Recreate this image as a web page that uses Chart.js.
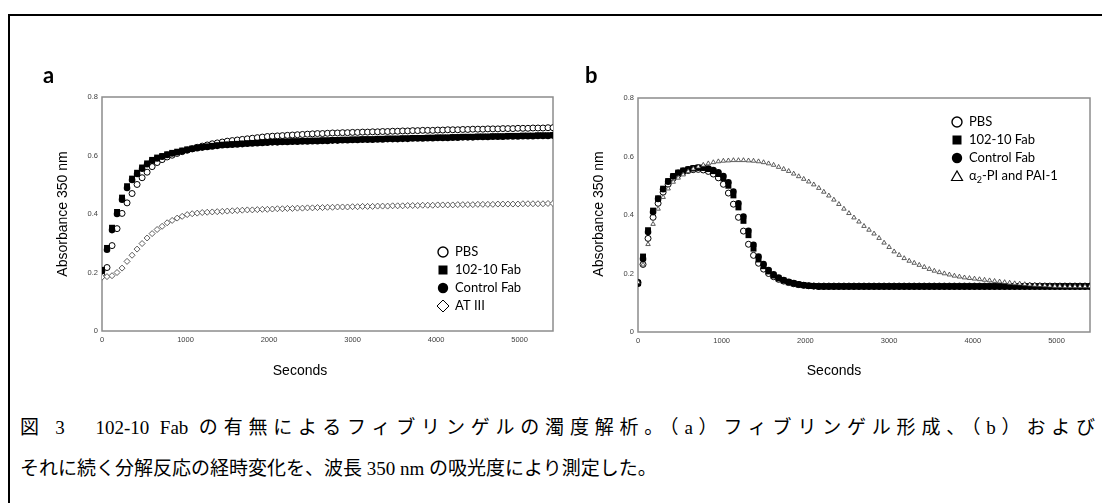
<!DOCTYPE html>
<html lang="ja">
<head>
<meta charset="utf-8">
<script src="https://cdn.jsdelivr.net/npm/chart.js@4.4.1/dist/chart.umd.min.js"></script>
<style>
  html, body { margin: 0; padding: 0; background: #fff; }
  body { width: 1102px; height: 503px; position: relative; overflow: hidden; }
  #frame { position: absolute; left: 8px; top: 14px; width: 1200px; height: 600px; border-top: 2px solid #000; border-left: 2px solid #000; }
  canvas { position: absolute; top: 0; }
  #chartA { left: 0; }
  #chartB { left: 536px; }
  .cap { position: absolute; left: 20px; font-family: "Liberation Serif", "Noto Sans CJK JP", serif; font-size: 19px; line-height: 22px; color: #000; white-space: nowrap; }
  #cap1 { top: 417px; width: 1075px; text-align: justify; text-align-last: justify; white-space: normal; }
  #cap2 { top: 458px; }
</style>
</head>
<body>
<div id="frame"></div>
<canvas id="chartA" width="560" height="390"></canvas>
<canvas id="chartB" width="566" height="390"></canvas>
<div class="cap" id="cap1">図 3　102-10 Fab の有無によるフィブリンゲルの濁度解析。（a）フィブリンゲル形成、（b）および</div>
<div class="cap" id="cap2">それに続く分解反応の経時変化を、波長 350 nm の吸光度により測定した。</div>
<script>
// time axis (s), one reading every minute
const seconds = [
  0, 60, 120, 180, 240, 300, 360, 420, 480, 540,
  600, 660, 720, 780, 840, 900, 960, 1020, 1080, 1140,
  1200, 1260, 1320, 1380, 1440, 1500, 1560, 1620, 1680, 1740,
  1800, 1860, 1920, 1980, 2040, 2100, 2160, 2220, 2280, 2340,
  2400, 2460, 2520, 2580, 2640, 2700, 2760, 2820, 2880, 2940,
  3000, 3060, 3120, 3180, 3240, 3300, 3360, 3420, 3480, 3540,
  3600, 3660, 3720, 3780, 3840, 3900, 3960, 4020, 4080, 4140,
  4200, 4260, 4320, 4380, 4440, 4500, 4560, 4620, 4680, 4740,
  4800, 4860, 4920, 4980, 5040, 5100, 5160, 5220, 5280, 5340,
  5400
]

// panel a : fibrin gel formation
const aPBS = [
  0.190, 0.217, 0.292, 0.350, 0.402, 0.438, 0.470, 0.501, 0.524, 0.543,
  0.562, 0.576, 0.586, 0.595, 0.601, 0.607, 0.613, 0.618, 0.623, 0.628,
  0.632, 0.636, 0.640, 0.643, 0.646, 0.649, 0.651, 0.653, 0.655, 0.657,
  0.659, 0.661, 0.663, 0.665, 0.666, 0.667, 0.668, 0.669, 0.670, 0.671,
  0.672, 0.673, 0.674, 0.675, 0.675, 0.676, 0.677, 0.677, 0.678, 0.678,
  0.679, 0.679, 0.680, 0.680, 0.681, 0.681, 0.682, 0.682, 0.683, 0.683,
  0.684, 0.684, 0.685, 0.685, 0.686, 0.686, 0.686, 0.687, 0.687, 0.688,
  0.688, 0.688, 0.689, 0.689, 0.690, 0.690, 0.690, 0.691, 0.691, 0.691,
  0.692, 0.692, 0.692, 0.693, 0.693, 0.693, 0.694, 0.694, 0.694, 0.695,
  0.695
]
const aFab = [
  0.209, 0.284, 0.353, 0.407, 0.456, 0.495, 0.521, 0.541, 0.559, 0.573,
  0.585, 0.593, 0.598, 0.604, 0.609, 0.613, 0.617, 0.621, 0.624, 0.627,
  0.629, 0.631, 0.633, 0.635, 0.637, 0.638, 0.639, 0.640, 0.641, 0.642,
  0.643, 0.644, 0.645, 0.646, 0.647, 0.647, 0.648, 0.648, 0.649, 0.649,
  0.650, 0.650, 0.651, 0.651, 0.652, 0.652, 0.653, 0.653, 0.654, 0.654,
  0.655, 0.655, 0.656, 0.656, 0.656, 0.657, 0.657, 0.658, 0.658, 0.658,
  0.659, 0.659, 0.660, 0.660, 0.660, 0.661, 0.661, 0.662, 0.662, 0.662,
  0.663, 0.663, 0.664, 0.664, 0.664, 0.665, 0.665, 0.665, 0.666, 0.666,
  0.666, 0.667, 0.667, 0.667, 0.668, 0.668, 0.668, 0.669, 0.669, 0.669,
  0.670
]
const aCtrl = [
  0.205, 0.278, 0.345, 0.400, 0.449, 0.489, 0.516, 0.537, 0.555, 0.570,
  0.582, 0.590, 0.596, 0.602, 0.607, 0.611, 0.615, 0.619, 0.622, 0.625,
  0.627, 0.629, 0.631, 0.633, 0.635, 0.636, 0.637, 0.638, 0.639, 0.640,
  0.641, 0.642, 0.643, 0.644, 0.645, 0.645, 0.646, 0.646, 0.647, 0.647,
  0.648, 0.648, 0.649, 0.649, 0.650, 0.650, 0.651, 0.651, 0.652, 0.652,
  0.653, 0.653, 0.654, 0.654, 0.654, 0.655, 0.655, 0.656, 0.656, 0.656,
  0.657, 0.657, 0.658, 0.658, 0.658, 0.659, 0.659, 0.660, 0.660, 0.660,
  0.661, 0.661, 0.662, 0.662, 0.662, 0.663, 0.663, 0.663, 0.664, 0.664,
  0.664, 0.665, 0.665, 0.665, 0.666, 0.666, 0.666, 0.667, 0.667, 0.667,
  0.668
]
const aAT3 = [
  0.184, 0.186, 0.189, 0.200, 0.215, 0.238, 0.259, 0.280, 0.299, 0.318,
  0.333, 0.347, 0.358, 0.370, 0.378, 0.386, 0.392, 0.398, 0.401, 0.403,
  0.405, 0.406, 0.407, 0.408, 0.409, 0.410, 0.411, 0.412, 0.413, 0.414,
  0.414, 0.415, 0.416, 0.416, 0.417, 0.418, 0.418, 0.419, 0.419, 0.420,
  0.420, 0.421, 0.421, 0.422, 0.422, 0.423, 0.423, 0.424, 0.424, 0.424,
  0.425, 0.425, 0.426, 0.426, 0.426, 0.427, 0.427, 0.427, 0.428, 0.428,
  0.428, 0.429, 0.429, 0.429, 0.430, 0.430, 0.430, 0.431, 0.431, 0.431,
  0.431, 0.432, 0.432, 0.432, 0.432, 0.433, 0.433, 0.433, 0.433, 0.434,
  0.434, 0.434, 0.434, 0.434, 0.435, 0.435, 0.435, 0.435, 0.435, 0.436,
  0.436
]

// panel b : formation followed by lysis
const bPBS = [
  0.170, 0.231, 0.320, 0.392, 0.440, 0.478, 0.505, 0.525, 0.538, 0.547,
  0.552, 0.555, 0.556, 0.554, 0.549, 0.540, 0.527, 0.505, 0.475, 0.437,
  0.392, 0.345, 0.300, 0.262, 0.235, 0.215, 0.200, 0.189, 0.180, 0.174,
  0.169, 0.165, 0.162, 0.160, 0.158, 0.157, 0.157, 0.157, 0.157, 0.157,
  0.157, 0.157, 0.157, 0.157, 0.157, 0.157, 0.157, 0.157, 0.157, 0.157,
  0.157, 0.157, 0.157, 0.157, 0.157, 0.157, 0.157, 0.157, 0.157, 0.157,
  0.157, 0.157, 0.157, 0.157, 0.157, 0.157, 0.157, 0.157, 0.157, 0.157,
  0.157, 0.157, 0.157, 0.157, 0.157, 0.157, 0.157, 0.157, 0.157, 0.157,
  0.157, 0.157, 0.157, 0.157, 0.157, 0.157, 0.157, 0.157, 0.157, 0.157,
  0.157
]
const bFab = [
  0.168, 0.258, 0.348, 0.415, 0.457, 0.490, 0.516, 0.533, 0.545, 0.552,
  0.556, 0.560, 0.562, 0.561, 0.557, 0.550, 0.540, 0.525, 0.500, 0.467,
  0.426, 0.380, 0.331, 0.285, 0.248, 0.225, 0.207, 0.193, 0.183, 0.176,
  0.170, 0.166, 0.162, 0.160, 0.158, 0.157, 0.156, 0.156, 0.156, 0.156,
  0.156, 0.156, 0.156, 0.156, 0.156, 0.156, 0.156, 0.156, 0.156, 0.156,
  0.156, 0.156, 0.156, 0.156, 0.156, 0.156, 0.156, 0.156, 0.156, 0.156,
  0.156, 0.156, 0.156, 0.156, 0.156, 0.156, 0.156, 0.156, 0.156, 0.156,
  0.156, 0.156, 0.156, 0.156, 0.156, 0.156, 0.156, 0.156, 0.156, 0.156,
  0.156, 0.156, 0.156, 0.156, 0.156, 0.156, 0.156, 0.156, 0.156, 0.156,
  0.156
]
const bCtrl = [
  0.165, 0.250, 0.342, 0.410, 0.455, 0.488, 0.514, 0.532, 0.544, 0.551,
  0.556, 0.560, 0.562, 0.562, 0.559, 0.554, 0.546, 0.533, 0.512, 0.480,
  0.440, 0.395, 0.346, 0.298, 0.258, 0.232, 0.212, 0.197, 0.186, 0.178,
  0.172, 0.167, 0.163, 0.160, 0.158, 0.157, 0.155, 0.155, 0.155, 0.155,
  0.155, 0.155, 0.155, 0.155, 0.155, 0.155, 0.155, 0.155, 0.155, 0.155,
  0.155, 0.155, 0.155, 0.155, 0.155, 0.155, 0.155, 0.155, 0.155, 0.155,
  0.155, 0.155, 0.155, 0.155, 0.155, 0.155, 0.155, 0.155, 0.155, 0.155,
  0.155, 0.155, 0.155, 0.155, 0.155, 0.155, 0.155, 0.155, 0.155, 0.155,
  0.155, 0.155, 0.155, 0.155, 0.155, 0.155, 0.155, 0.155, 0.155, 0.155,
  0.155
]
const bInhib = [
  0.170, 0.230, 0.300, 0.369, 0.421, 0.461, 0.490, 0.513, 0.527, 0.538,
  0.549, 0.558, 0.565, 0.571, 0.576, 0.580, 0.583, 0.585, 0.586, 0.587,
  0.587, 0.587, 0.586, 0.585, 0.583, 0.580, 0.576, 0.571, 0.564, 0.557,
  0.550, 0.541, 0.532, 0.523, 0.514, 0.504, 0.492, 0.479, 0.466, 0.452,
  0.437, 0.421, 0.406, 0.391, 0.377, 0.362, 0.349, 0.336, 0.321, 0.305,
  0.290, 0.275, 0.263, 0.252, 0.243, 0.236, 0.229, 0.222, 0.215, 0.209,
  0.204, 0.200, 0.196, 0.192, 0.189, 0.186, 0.184, 0.182, 0.180, 0.178,
  0.176, 0.174, 0.172, 0.170, 0.168, 0.166, 0.165, 0.163, 0.162, 0.161,
  0.160, 0.159, 0.158, 0.157, 0.157, 0.156, 0.156, 0.156, 0.156, 0.156,
  0.156
]

const xTicks = [0, 1000, 2000, 3000, 4000, 5000]
const yTicks = [0, 0.2, 0.4, 0.6, 0.8]
const labelsA = ['PBS', '102-10 Fab', 'Control Fab', 'AT III']
const labelsB = ['PBS', '102-10 Fab', 'Control Fab', 'α2-PI and PAI-1']
const yTitle = 'Absorbance 350 nm'
const xTitle = 'Seconds'

const stPBS = { pointStyle: 'circle', pointRadius: 3, pointBorderWidth: 1, pointBorderColor: '#000', pointBackgroundColor: '#fff', order: 4 }
const stFab = { pointStyle: 'rect', pointRadius: 4.2, pointBorderWidth: 0, pointBorderColor: '#000', pointBackgroundColor: '#000', order: 3 }
const stCtrl = { pointStyle: 'circle', pointRadius: 3.3, pointBorderWidth: 0, pointBorderColor: '#000', pointBackgroundColor: '#000', order: 2 }
const stAT = { pointStyle: 'rectRot', pointRadius: 3, pointBorderWidth: 0.8, pointBorderColor: '#333', pointBackgroundColor: '#fff', order: 1 }
const stTri = { pointStyle: 'triangle', pointRadius: 2.6, pointBorderWidth: 0.8, pointBorderColor: '#333', pointBackgroundColor: '#fff', order: 1 }

function series(label, values, style) {
	return Object.assign({ label: label, data: seconds.map((t, i) => ({ x: t, y: values[i] })), showLine: false, pointHoverRadius: style.pointRadius }, style)
}

// legend marker, drawn like the excel legend
function marker(ctx, kind, x, y) {
	ctx.beginPath()
	ctx.lineWidth = 1.4
	ctx.strokeStyle = '#000'
	ctx.fillStyle = '#000'
	if (kind === 'open') {
		ctx.arc(x, y, 5, 0, Math.PI * 2)
		ctx.fillStyle = '#fff'
		ctx.fill()
		ctx.stroke()
	} else if (kind === 'square') {
		ctx.fillRect(x - 4.5, y - 4.5, 9, 9)
	} else if (kind === 'dot') {
		ctx.arc(x, y, 5.2, 0, Math.PI * 2)
		ctx.fill()
	} else if (kind === 'diamond') {
		ctx.lineWidth = 1
		ctx.moveTo(x - 6, y)
		ctx.lineTo(x, y - 6)
		ctx.lineTo(x + 6, y)
		ctx.lineTo(x, y + 6)
		ctx.closePath()
		ctx.stroke()
	} else if (kind === 'tri') {
		ctx.lineWidth = 1.2
		ctx.moveTo(x - 5.5, y + 4.5)
		ctx.lineTo(x, y - 5)
		ctx.lineTo(x + 5.5, y + 4.5)
		ctx.closePath()
		ctx.stroke()
	}
}

const decor = {
	id: 'decor',
	beforeDatasetsDraw(chart) {
		const { ctx, chartArea: a } = chart
		ctx.save()
		ctx.strokeStyle = '#8c8c8c'
		ctx.lineWidth = 1.5
		ctx.strokeRect(a.left, a.top, a.right - a.left, a.bottom - a.top)
		ctx.restore()
	},
	afterDraw(chart, args, o) {
		const ctx = chart.ctx
		ctx.save()
		ctx.fillStyle = '#000'
		ctx.font = 'bold 22px Lato'
		ctx.textBaseline = 'alphabetic'
		ctx.fillText(o.letter, o.letterX, 83)

		ctx.font = '14px "Liberation Sans"'
		ctx.textAlign = 'center'
		ctx.textBaseline = 'middle'
		ctx.fillText(xTitle, o.xTitleX, 371)
		ctx.save()
		ctx.translate(o.yTitleX, 214)
		ctx.rotate(-Math.PI / 2)
		ctx.fillText(yTitle, 0, 0)
		ctx.restore()

		ctx.textAlign = 'left'
		o.labels.forEach((lab, i) => {
			const y = o.legY + i * 18
			marker(ctx, o.kinds[i], o.legX, y)
			ctx.fillStyle = '#000'
			ctx.font = '13px Lato'
			let x = o.legX + 12
			if (lab.startsWith('α2')) {
				ctx.fillText('α', x, y)
				x += ctx.measureText('α').width
				ctx.font = '9px Lato'
				ctx.fillText('2', x, y + 4)
				x += ctx.measureText('2').width
				ctx.font = '13px Lato'
				ctx.fillText(lab.slice(2), x, y)
			} else {
				ctx.fillText(lab, x, y)
			}
		})
		ctx.restore()
	},
}

function panel(id, datasets, pad, axisH, deco) {
	return new Chart(document.getElementById(id), {
		type: 'scatter',
		data: { datasets: datasets },
		plugins: [decor],
		options: {
			responsive: false,
			animation: false,
			devicePixelRatio: 1,
			events: [],
			layout: { padding: pad },
			plugins: { legend: { display: false }, tooltip: { enabled: false }, decor: deco },
			scales: {
				x: {
					type: 'linear',
					min: 0,
					max: 5400,
					afterBuildTicks: (s) => { s.ticks = xTicks.map((v) => ({ value: v })) },
					afterFit: (s) => { s.height = axisH },
					grid: { display: false, drawTicks: false },
					border: { display: false },
					ticks: { autoSkip: false, maxRotation: 0, padding: 4, color: '#404040', font: { family: 'Liberation Sans', size: 7.5 }, callback: (v) => String(v) },
				},
				y: {
					min: 0,
					max: 0.8,
					afterBuildTicks: (s) => { s.ticks = yTicks.map((v) => ({ value: v })) },
					afterFit: (s) => { s.width = 102 },
					grid: { display: false, drawTicks: false },
					border: { display: false },
					ticks: { padding: 4, color: '#404040', font: { family: 'Liberation Sans', size: 7.5 }, callback: (v) => String(v) },
				},
			},
		},
	})
}

var chartA = panel('chartA', [
	series(labelsA[0], aPBS, stPBS),
	series(labelsA[1], aFab, stFab),
	series(labelsA[2], aCtrl, stCtrl),
	series(labelsA[3], aAT3, stAT),
], { top: 97, right: 7, left: 0, bottom: 0 }, 59, {
	letter: 'a', letterX: 43, xTitleX: 300, yTitleX: 63,
	labels: labelsA, kinds: ['open', 'square', 'dot', 'diamond'], legX: 443, legY: 252,
})

var chartB = panel('chartB', [
	series(labelsB[0], bPBS, stPBS),
	series(labelsB[1], bFab, stFab),
	series(labelsB[2], bCtrl, stCtrl),
	series(labelsB[3], bInhib, stTri),
], { top: 98, right: 12, left: 0, bottom: 0 }, 58, {
	letter: 'b', letterX: 49, xTitleX: 298, yTitleX: 63,
	labels: labelsB, kinds: ['open', 'square', 'dot', 'tri'], legX: 421, legY: 122,
})
</script>
</body>
</html>
